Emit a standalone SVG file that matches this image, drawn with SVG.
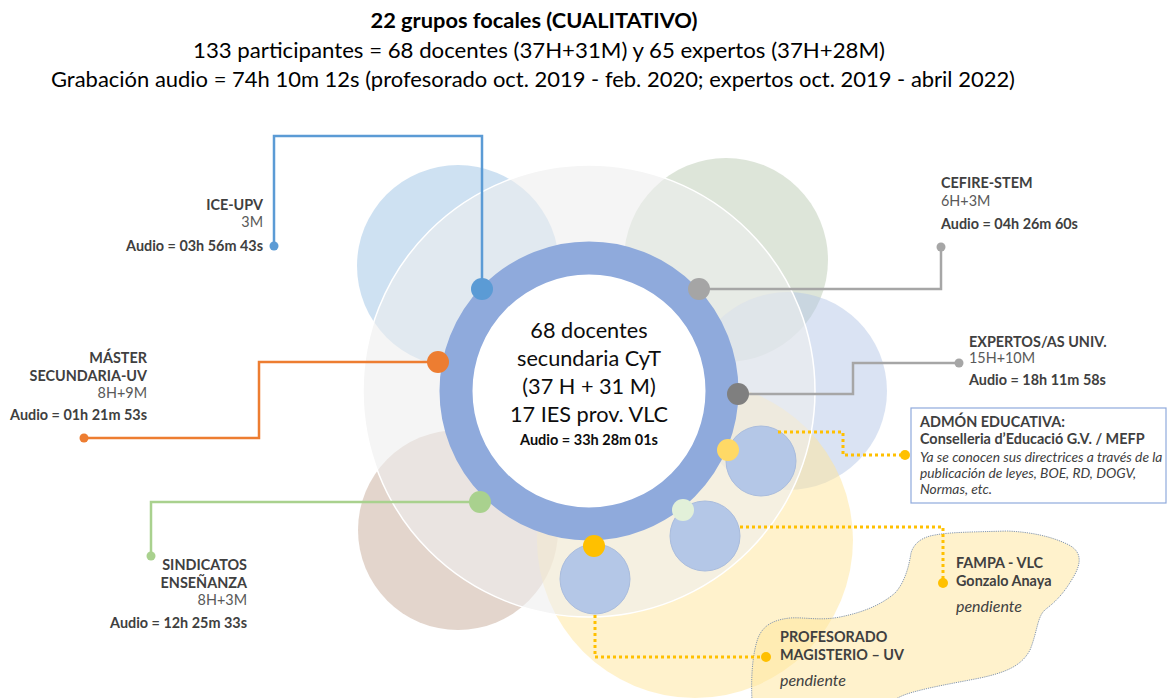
<svg xmlns="http://www.w3.org/2000/svg" width="1168" height="698" viewBox="0 0 1168 698">
  <defs>
    <style>
      text { font-family: Lato, "Open Sans", "Liberation Sans", sans-serif; }
      .title { font-size: 21px; fill: #000; }
      .b { font-weight: bold; }
      .lbl { font-size: 14.4px; font-weight: bold; fill: #404040; }
      .cnt { font-size: 14.4px; fill: #595959; }
      .it { font-style: italic; fill: #404040; font-size: 13.8px; }
      .pend { font-style: italic; fill: #404040; font-size: 16px; }
      .ctr { font-size: 21.7px; fill: #0d0d0d; text-anchor: middle; }
      .petal { opacity: 0.5; }
      .mini { fill: #b4c7e7; stroke: #a9bcdd; stroke-width: 1; }
      .link { fill: none; stroke-width: 2.5; }
      .dotted { fill: none; stroke: #ffc000; stroke-width: 3; stroke-dasharray: 3 3; }
    </style>
  </defs>

  <!-- heading -->
  <g id="heading">
    <text class="title b" x="534" y="28" text-anchor="middle" textLength="327" lengthAdjust="spacingAndGlyphs">22 grupos focales (CUALITATIVO)</text>
    <text class="title" x="539" y="58" text-anchor="middle" textLength="692" lengthAdjust="spacingAndGlyphs">133 participantes = 68 docentes (37H+31M) y 65 expertos (37H+28M)</text>
    <text class="title" x="533" y="87" text-anchor="middle" textLength="964" lengthAdjust="spacingAndGlyphs">Grabación audio = 74h 10m 12s (profesorado oct. 2019 - feb. 2020; expertos oct. 2019 - abril 2022)</text>
  </g>

  <!-- background petals -->
  <g id="petals">
    <circle class="petal" cx="458" cy="266" r="101" fill="#9dc3e6"/>
    <circle class="petal" cx="726" cy="260" r="102" fill="#bbcbb3"/>
    <circle class="petal" cx="788" cy="391" r="99" fill="#b5c7e7"/>
    <circle class="petal" cx="458" cy="530" r="100" fill="#c7ab99"/>
    <circle class="petal" cx="695" cy="540" r="158" fill="#ffe599"/>
  </g>

  <!-- cloud holding the pending groups -->
  <path id="cloud" d="M752 700 C751 680 752 655 758 638 C763 626 772 620 790 618 C805 617 820 621 840 617 C860 613 880 606 895 593 C905 582 909 566 911 553 C914 543 922 537 935 535 C950 532 975 532 1007 531 C1030 532 1050 536 1067 544 C1080 550 1083 560 1074 576 C1066 590 1058 600 1046 609 C1037 616 1038 630 1030 650 C1022 665 1008 672 980 678 C955 683 930 687 910 693 C900 696 895 699 890 704 Z" fill="#ffe599" fill-opacity="0.5" stroke="#8497b0" stroke-width="1" stroke-dasharray="1.2 1"/>

  <!-- translucent halo -->
  <circle id="halo" cx="589" cy="391" r="226" fill="#eeeeee" fill-opacity="0.6" stroke="#ffffff" stroke-width="1.5"/>

  <!-- central node -->
  <g id="center">
    <circle cx="589" cy="391" r="133" fill="#ffffff" stroke="#8faadc" stroke-width="33"/>
    <text class="ctr" x="589" y="338">68 docentes</text>
    <text class="ctr" x="589" y="366">secundaria CyT</text>
    <text class="ctr" x="589" y="394">(37 H + 31 M)</text>
    <text class="ctr" x="589" y="422">17 IES prov. VLC</text>
    <text x="589" y="445" text-anchor="middle" font-size="14.5" font-weight="bold" fill="#0d0d0d">Audio = 33h 28m 01s</text>
  </g>

  <!-- satellite bubbles -->
  <g id="bubbles">
    <circle class="mini" cx="761" cy="461" r="35"/>
    <circle class="mini" cx="705" cy="536" r="35"/>
    <circle class="mini" cx="595" cy="579" r="35"/>
  </g>

  <!-- connectors -->
  <g id="connectors">
    <path class="link" stroke="#5b9bd5" d="M482 289 V136 H274 V246"/>
    <path class="link" stroke="#ed7d31" d="M438 362 H259 V438 H84"/>
    <path class="link" stroke="#a9d18e" d="M480 502 H151 V556"/>
    <path class="link" stroke="#a6a6a6" d="M699 289 H941 V247"/>
    <path class="link" stroke="#a6a6a6" d="M738 394 H853 V363 H959"/>
    <path class="dotted" d="M778 432 H843 V455 H905"/>
    <path class="dotted" d="M740 527 H943 V583"/>
    <path class="dotted" d="M595 615 V657 H766"/>

    <circle cx="274" cy="246" r="4.5" fill="#5b9bd5"/>
    <circle cx="84" cy="438" r="4.5" fill="#ed7d31"/>
    <circle cx="151" cy="556" r="4.5" fill="#a9d18e"/>
    <circle cx="941" cy="247" r="4.5" fill="#a6a6a6"/>
    <circle cx="959" cy="363" r="4.5" fill="#a6a6a6"/>
    <circle cx="905" cy="455" r="5" fill="#ffc000"/>
    <circle cx="943" cy="583" r="5" fill="#ffc000"/>
    <circle cx="766" cy="657" r="5" fill="#ffc000"/>

    <circle cx="482" cy="289" r="11" fill="#5b9bd5"/>
    <circle cx="699" cy="289" r="11" fill="#a5a5a5"/>
    <circle cx="438" cy="362" r="11" fill="#ed7d31"/>
    <circle cx="738" cy="394" r="11" fill="#7f7f7f"/>
    <circle cx="728" cy="450" r="11" fill="#ffd966"/>
    <circle cx="480" cy="502" r="11" fill="#a9d18e"/>
    <circle cx="683" cy="510" r="11" fill="#e2f0d9"/>
    <circle cx="594" cy="546" r="11" fill="#ffc000"/>
  </g>

  <g id="ice-upv" text-anchor="end">
    <text class="lbl" x="263" y="210">ICE-UPV</text>
    <text class="cnt" x="263" y="227">3M</text>
    <text class="lbl" x="263" y="251">Audio = 03h 56m 43s</text>
  </g>

  <g id="master" text-anchor="end">
    <text class="lbl" x="147" y="363">MÁSTER</text>
    <text class="lbl" x="147" y="381">SECUNDARIA-UV</text>
    <text class="cnt" x="147" y="398">8H+9M</text>
    <text class="lbl" x="147" y="420">Audio = 01h 21m 53s</text>
  </g>

  <g id="sindicatos" text-anchor="end">
    <text class="lbl" x="247" y="570">SINDICATOS</text>
    <text class="lbl" x="247" y="588">ENSEÑANZA</text>
    <text class="cnt" x="247" y="605">8H+3M</text>
    <text class="lbl" x="247" y="628">Audio = 12h 25m 33s</text>
  </g>

  <g id="cefire">
    <text class="lbl" x="941" y="188">CEFIRE-STEM</text>
    <text class="cnt" x="941" y="206">6H+3M</text>
    <text class="lbl" x="941" y="229">Audio = 04h 26m 60s</text>
  </g>

  <g id="expertos">
    <text class="lbl" x="969" y="347">EXPERTOS/AS UNIV.</text>
    <text class="cnt" x="969" y="363">15H+10M</text>
    <text class="lbl" x="969" y="385">Audio = 18h 11m 58s</text>
  </g>

  <g id="admon">
    <rect x="911" y="408" width="255" height="95" fill="#ffffff" stroke="#8faadc" stroke-width="1.2"/>
    <text class="lbl" x="920" y="427">ADMÓN EDUCATIVA:</text>
    <text class="lbl" x="920" y="444">Conselleria d’Educació G.V. / MEFP</text>
    <text class="it" x="920" y="462">Ya se conocen sus directrices a través de la</text>
    <text class="it" x="920" y="478">publicación de leyes, BOE, RD, DOGV,</text>
    <text class="it" x="920" y="494">Normas, etc.</text>
  </g>

  <g id="fampa">
    <text class="lbl" x="956" y="568">FAMPA - VLC</text>
    <text class="lbl" x="956" y="586">Gonzalo Anaya</text>
    <text class="pend" x="956" y="612">pendiente</text>
  </g>

  <g id="magisterio">
    <text class="lbl" x="780" y="642">PROFESORADO</text>
    <text class="lbl" x="780" y="660">MAGISTERIO – UV</text>
    <text class="pend" x="780" y="686">pendiente</text>
  </g>
</svg>
